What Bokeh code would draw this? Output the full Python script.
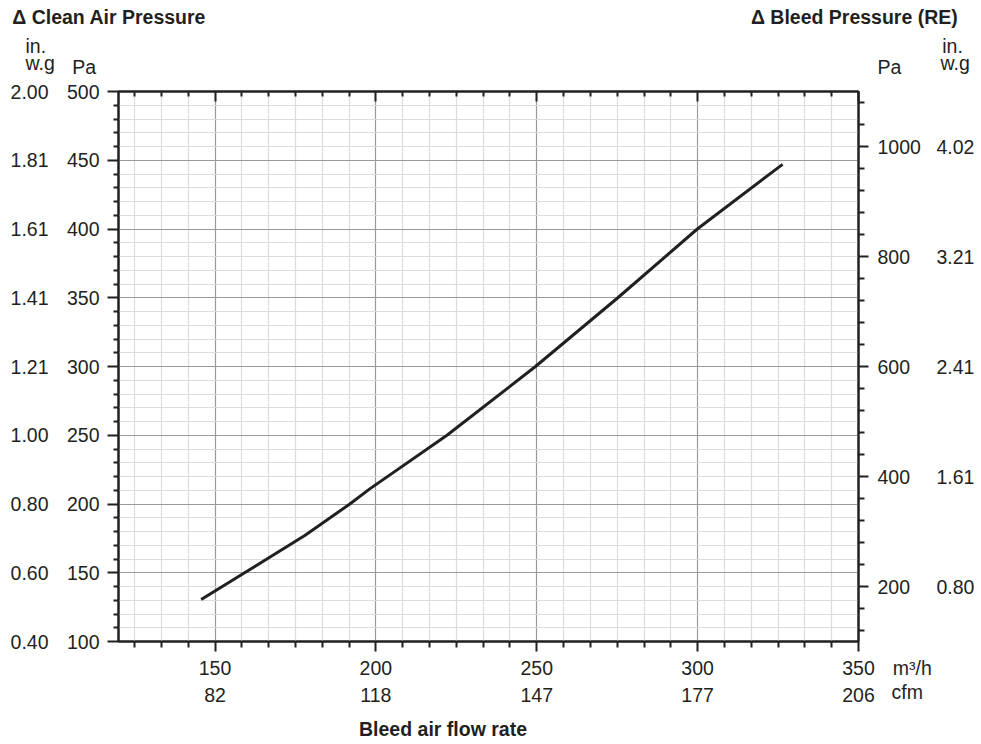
from bokeh.plotting import figure
from bokeh.models import LinearAxis, Range1d, FixedTicker, Title
from bokeh.embed import file_html
from bokeh.resources import INLINE
import numpy as np

# ---- data ----
flow_m3h = [145.7, 177.9, 191.9, 198.1, 222.1, 249.6, 275.2, 299.9, 326.4]
pressure_pa = [130.5, 177.1, 200.0, 211.0, 250.0, 300.0, 350.0, 400.0, 447.0]

x_ticks = [150, 200, 250, 300, 350]
x_labels = ["150", "200", "250", "300", "350"]
cfm_labels = ["82", "118", "147", "177", "206"]

pa_ticks = [100, 150, 200, 250, 300, 350, 400, 450, 500]
pa_labels = ["100", "150", "200", "250", "300", "350", "400", "450", "500"]
inwg_left_labels = ["0.40", "0.60", "0.80", "1.00", "1.21", "1.41", "1.61", "1.81", "2.00"]

re_ticks = [200, 400, 600, 800, 1000]
re_labels = ["200", "400", "600", "800", "1000"]
inwg_right_labels = ["0.80", "1.61", "2.41", "3.21", "4.02"]

title_left = "\u0394 Clean Air Pressure"
title_right = "\u0394 Bleed Pressure (RE)"
x_title = "Bleed air flow rate"
unit_flow = "m\u00b3/h"
unit_cfm = "cfm"

# ---- styling / layout ----
FONT = "Liberation Sans"
TXT = "#231f20"
AX = "#231f20"
FS = "19.5px"
TEXT_H = 21.78          # text box height of a 19.5px line (ascent + descent)
ZERO = -(2 + TEXT_H)    # title standoff that makes a title take no room

W, H = 981, 744
FL, FR, FT, FB = 118, 858, 91, 641
X0, X1 = 120, 350

x_minor = [v for v in np.arange(125, 350, 50 / 6) if all(abs(v - t) > 1e-6 for t in x_ticks)]
y_minor = [v for v in range(110, 500, 10) if v % 50 != 0]
re_minor = [v for v in range(120, 1100, 40) if v % 200 != 0]

p = figure(width=W, height=H, x_range=Range1d(X0, X1), y_range=Range1d(100, 500),
           output_backend="svg", toolbar_location=None,
           min_border_left=FL, min_border_right=W - FR,
           min_border_top=FT, min_border_bottom=H - FB)
p.extra_y_ranges = {"re": Range1d(100, 1100)}
p.outline_line_color = AX
p.outline_line_width = 2
p.background_fill_color = "white"
p.border_fill_color = "white"


def style_axis(ax, bold=False):
    ax.axis_line_color = AX
    ax.axis_line_width = 2
    ax.major_tick_line_color = AX
    ax.minor_tick_line_color = AX
    ax.major_tick_line_width = 2
    ax.minor_tick_line_width = 2
    ax.major_label_text_font = FONT
    ax.major_label_text_font_size = FS
    ax.major_label_text_color = TXT
    ax.major_label_text_font_style = "bold" if bold else "normal"


def label_only(ax):
    ax.axis_line_color = None
    ax.major_tick_line_color = None
    ax.minor_tick_line_color = None
    ax.major_tick_out = 0
    ax.minor_tick_out = 0
    ax.major_tick_in = 0
    ax.minor_tick_in = 0


def no_labels(ax, ticks):
    ax.major_label_overrides = {t: "" for t in ticks}
    ax.major_label_text_font_size = "0px"
    ax.major_label_standoff = 0


def text_row(place, ticks, labels, standoff, bold=False):
    ax = LinearAxis(ticker=FixedTicker(ticks=ticks))
    style_axis(ax, bold)
    label_only(ax)
    ax.major_label_overrides = {t: l for t, l in zip(ticks, labels)}
    ax.major_label_standoff = standoff
    p.add_layout(ax, place)
    return ax


def note(place, text, left=None, right_end=None, standoff=ZERO, bold=False):
    """a text outside the frame, as a Title in a side panel"""
    if right_end is not None:
        align, offset = "right", FR - right_end
    else:
        align, offset = "left", left - FL
    p.add_layout(Title(text=text, align=align, offset=offset, standoff=standoff,
                       vertical_align="middle", text_font=FONT, text_font_size=FS,
                       text_color=TXT, text_font_style="bold" if bold else "normal"), place)


def spacer(place, height):
    note(place, " ", left=FL, standoff=height - (2 + TEXT_H))


# ---- bottom ----
xa = p.xaxis[0]
xa.ticker = FixedTicker(ticks=x_ticks, minor_ticks=x_minor)
style_axis(xa)
no_labels(xa, x_ticks)
xa.major_tick_out = 10
xa.major_tick_in = 0
xa.minor_tick_out = 6
xa.minor_tick_in = 0

spacer("below", 16)
note("below", unit_flow, left=892.3)
text_row("below", x_ticks, x_labels, -7)
spacer("below", 14)
note("below", unit_cfm, left=891)
text_row("below", x_ticks, cfm_labels, -4)
text_row("below", [X0 + (442.5 - FL) * (X1 - X0) / (FR - FL)], [x_title], 13, bold=True)

# ---- top ----
xt = LinearAxis(ticker=FixedTicker(ticks=x_ticks, minor_ticks=x_minor))
style_axis(xt)
no_labels(xt, x_ticks)
xt.major_tick_in = 10
xt.major_tick_out = 0
xt.minor_tick_in = 5
xt.minor_tick_out = 0
p.add_layout(xt, "above")

spacer("above", 25)
note("above", "Pa", left=71.7)
note("above", "Pa", left=877)
spacer("above", 4)
note("above", "w.g", left=25)
note("above", "w.g", left=940)
spacer("above", 17)
note("above", "in.", left=25)
note("above", "in.", left=941.7)
spacer("above", 29)
note("above", title_left, left=11.7, bold=True)
note("above", title_right, right_end=957.3, bold=True)

# ---- left ----
ya = p.yaxis[0]
ya.ticker = FixedTicker(ticks=pa_ticks, minor_ticks=y_minor)
style_axis(ya)
ya.major_label_overrides = {t: l for t, l in zip(pa_ticks, pa_labels)}
ya.major_tick_out = 11
ya.major_tick_in = 0
ya.minor_tick_out = 5
ya.minor_tick_in = 0
ya.major_label_standoff = 8

ya2 = LinearAxis(ticker=FixedTicker(ticks=pa_ticks))
style_axis(ya2)
label_only(ya2)
ya2.major_label_overrides = {t: l for t, l in zip(pa_ticks, inwg_left_labels)}
ya2.major_label_standoff = 15
p.add_layout(ya2, "left")

# ---- right ----
yr = LinearAxis(y_range_name="re", ticker=FixedTicker(ticks=re_ticks, minor_ticks=re_minor))
style_axis(yr)
yr.major_label_overrides = {t: l for t, l in zip(re_ticks, re_labels)}
yr.major_tick_out = 10
yr.major_tick_in = 0
yr.minor_tick_out = 6
yr.minor_tick_in = 0
yr.major_label_standoff = 9
p.add_layout(yr, "right")

yr2 = LinearAxis(y_range_name="re", ticker=FixedTicker(ticks=re_ticks))
style_axis(yr2)
label_only(yr2)
yr2.major_label_overrides = {t: l for t, l in zip(re_ticks, inwg_right_labels)}
yr2.major_label_standoff = 13
p.add_layout(yr2, "right")

# ---- grids ----
for g in (p.xgrid[0], p.ygrid[0]):
    g.grid_line_color = "#9a9a9a"
    g.grid_line_width = 1.2
    g.minor_grid_line_color = "#dcdcdc"
    g.minor_grid_line_width = 1.2

# ---- curve ----
p.line(flow_m3h, pressure_pa, line_width=3, line_color=TXT)

open("out.html", "w").write(file_html(p, INLINE))
